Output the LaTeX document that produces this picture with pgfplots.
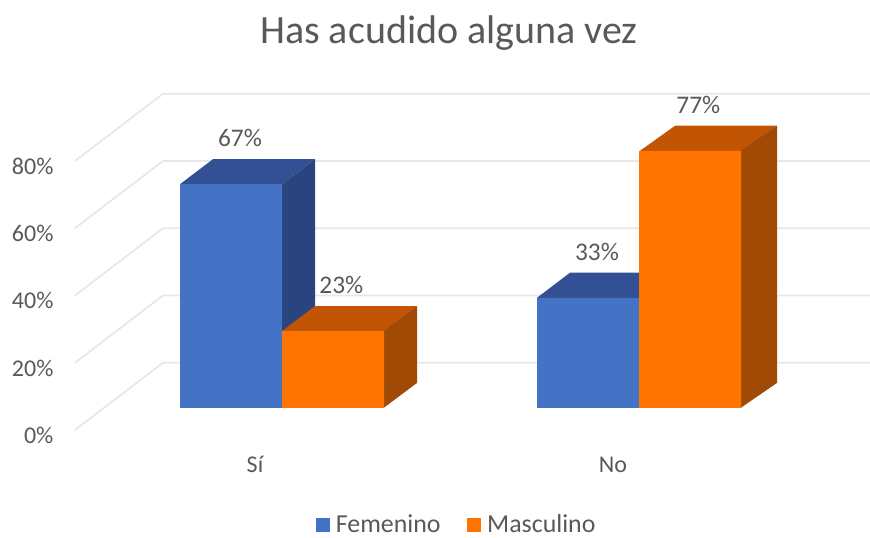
\documentclass[border=0pt]{standalone}
\usepackage{fontspec}
\setmainfont{Carlito}
\usepackage{pgfplots}
\pgfplotsset{compat=1.18}
\definecolor{txt}{HTML}{595959}
\definecolor{gridc}{HTML}{E7E7E7}
\definecolor{blueF}{HTML}{4472C4}
\definecolor{blueT}{HTML}{335094}
\definecolor{blueS}{HTML}{2A4480}
\definecolor{orgF}{HTML}{FF7300}
\definecolor{orgT}{HTML}{C15504}
\definecolor{orgS}{HTML}{A04A06}
% x is in reference pixels, y in percent with the bar floor at 0
\pgfplotsset{
  face/.style={fill=#1,draw=none,forget plot},
  wall/.style={gridc,line width=1.3pt,forget plot},
  val/.style={
    ybar,bar width=102,fill=#1,draw=none,
    nodes near coords={\pgfmathprintnumber[assume math mode=true]{\pgfplotspointmeta}\%},
    every node near coord/.append style={
      anchor=center,yshift=34.5pt,text=txt,
      font=\fontsize{19}{22}\selectfont}
  }
}
\begin{document}
\begin{tikzpicture}
\useasboundingbox (0,0) rectangle (652.5pt,403.5pt);
\begin{axis}[
  at={(56.25pt,81pt)},anchor=south west,
  scale only axis,width=596.25pt,height=262.5pt,
  xmin=75,xmax=870,ymin=-6.59,ymax=98.2,
  axis lines=left,axis line style={draw=none},
  major tick length=0pt,
  xtick={255,613},xticklabels={Sí,No},
  ytick={-6.59,13.55,33.68,53.82,73.95},
  yticklabels={0\%,20\%,40\%,60\%,80\%},
  tick label style={font=\fontsize{18}{21}\selectfont,text=txt},
  yticklabel style={anchor=east,inner xsep=0pt,xshift=-16pt,yshift=-4pt},
  xticklabel style={anchor=center,yshift=-26pt},
  title={Has acudido alguna vez},
  title style={at={(axis cs:449,109.9)},anchor=center,text=txt,
    font=\fontsize{30}{36}\selectfont},
  legend style={at={(axis cs:457,-35)},anchor=center,draw=none,fill=none,
    text=txt,font=\fontsize{19.4}{22}\selectfont,legend columns=2,
    /tikz/every even column/.append style={column sep=18pt}},
  legend image code/.code={\fill[#1,draw=none] (0pt,-5.2pt) rectangle (10.5pt,5.2pt);\path (13pt,0pt);},
  clip=false]
% gridlines: floor/side diagonal, then back wall
\addplot[wall] coordinates {(75,-6.59) (163,13.55) (870,13.55)};
\addplot[wall] coordinates {(75,13.55) (163,33.68) (870,33.68)};
\addplot[wall] coordinates {(75,33.68) (163,53.82) (870,53.82)};
\addplot[wall] coordinates {(75,53.82) (163,73.95) (870,73.95)};
\addplot[wall] coordinates {(75,73.95) (163,94.08) (870,94.08)};
% blue tops and sides
\addplot[face=blueT] coordinates {(180,67) (282,67) (315,74.5) (213,74.5)} --cycle;
\addplot[face=blueS] coordinates {(282,0) (315,7.5) (315,74.5) (282,67)} --cycle;
\addplot[face=blueT] coordinates {(537,33) (639,33) (672,40.5) (570,40.5)} --cycle;
\addplot[val=blueF,bar shift=-51,every node near coord/.append style={xshift=-31.5pt}] coordinates {(282,67) (639,33)};
\addlegendentry{Femenino}
% orange tops and sides
\addplot[face=orgT] coordinates {(282,23) (384,23) (417,30.5) (315,30.5)} --cycle;
\addplot[face=orgS] coordinates {(383.5,0) (417,7.5) (417,30.5) (383.5,23)} --cycle;
\addplot[face=orgT] coordinates {(640,77) (742,77) (777,84.5) (675,84.5)} --cycle;
\addplot[face=orgS] coordinates {(740.5,0) (777,7.5) (777,84.5) (740.5,77)} --cycle;
\addplot[val=orgF,bar shift=51,every node near coord/.append style={xshift=44.5pt}] coordinates {(282,23) (639,77)};
\addlegendentry{Masculino}
\end{axis}
\end{tikzpicture}
\end{document}
